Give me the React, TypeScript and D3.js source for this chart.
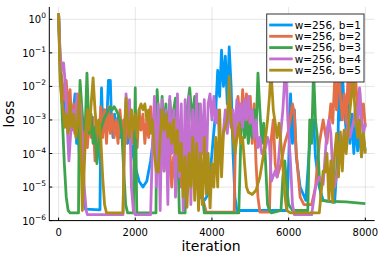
import React from 'react'
import * as d3 from 'd3'

// iteration, loss
const lossB1: [number, number][] = [
  [0, 1.5], [40, 3e-2], [80, 5e-3], [120, 1.5e-3], [160, 4e-3], [200, 8e-4], [240, 3e-3], [280, 5e-4],
  [320, 2e-3], [360, 1e-3], [430, 6e-3], [470, 2e-4], [500, 1e-3], [540, 1e-4], [600, 5e-5], [650, 6e-6],
  [700, 2.2e-6], [1080, 2.1e-6], [1100, 1e-3], [1120, 9e-3], [1150, 8e-4], [1200, 2e-3], [1250, 5e-4],
  [1300, 1.5e-2], [1350, 1.5e-2], [1380, 1e-3], [1420, 3e-4], [1460, 1.5e-3], [1500, 4e-4], [1550, 1.2e-3],
  [1600, 3e-4], [1650, 8e-4], [1700, 1.5e-4], [1750, 6e-4], [1800, 2e-4], [1850, 5e-4], [1900, 1.8e-4],
  [2000, 4e-5], [2100, 1.5e-5], [2200, 1e-5], [2300, 1.5e-5], [2400, 6e-5], [2500, 5e-4], [2550, 2.5e-3],
  [2600, 5e-4], [2650, 2e-3], [2700, 3e-4], [2750, 1.5e-3], [2800, 4e-4], [2850, 1.2e-3], [2900, 2e-4],
  [2950, 8e-4], [3000, 1.5e-4], [3100, 6e-4], [3200, 2e-4], [3300, 1.1e-4], [3400, 3e-4], [3500, 8e-5],
  [3600, 2e-5], [3700, 5e-6], [3800, 4e-6], [3900, 6e-6], [4000, 1e-4], [4100, 2e-3], [4150, 3e-2],
  [4200, 5e-3], [4250, 1.2e-1], [4300, 1e-2], [4350, 8e-2], [4400, 3e-3], [4450, 1.5e-1], [4500, 1e-2],
  [4550, 1e-4], [4600, 5e-6], [4650, 2e-6], [5950, 2e-6], [6000, 5e-5], [6050, 6e-3], [6100, 2e-4],
  [6150, 2e-3], [6200, 8e-5], [6300, 1e-5], [6450, 4e-6], [6550, 2e-4], [6650, 1e-3], [6700, 8e-5],
  [6800, 1e-5], [6900, 4e-6], [7200, 3.5e-6], [7280, 1e-4], [7320, 2e-2], [7360, 1e-3], [7400, 3e-2],
  [7450, 2e-3], [7500, 5e-4], [7550, 3e-3], [7600, 2e-4], [7650, 1.5e-3], [7700, 1e-4], [7750, 8e-4],
  [7800, 1.2e-4], [7850, 6e-4], [7900, 8e-5], [7950, 3e-4], [8000, 1.2e-4],
]

const lossB2: [number, number][] = [
  [0, 1.5], [40, 5e-2], [80, 2e-2], [110, 1e-2], [150, 4e-3], [200, 1.5e-2], [250, 2e-3], [300, 8e-3],
  [350, 5e-4], [400, 3e-3], [450, 6e-4], [500, 3e-3], [550, 2e-4], [600, 1.5e-3], [650, 5e-5], [700, 8e-4],
  [750, 1.5e-4], [800, 1e-3], [850, 3e-4], [900, 1.2e-3], [950, 6e-5], [1000, 6e-4], [1050, 1.5e-4],
  [1100, 2.5e-3], [1150, 3e-4], [1200, 2e-3], [1250, 2e-4], [1300, 2.5e-3], [1350, 4e-4], [1400, 1.5e-3],
  [1450, 3e-4], [1500, 1e-3], [1550, 2e-4], [1600, 2e-3], [1650, 4e-4], [1700, 1e-3], [1750, 2e-4],
  [1800, 1.5e-3], [1850, 3e-4], [1900, 8e-4], [1950, 2e-4], [2000, 1e-3], [2050, 1.5e-4], [2100, 2e-3],
  [2150, 5e-4], [2200, 1.5e-3], [2250, 2e-4], [2300, 1e-3], [2350, 3e-4], [2400, 2.5e-3], [2450, 4e-4],
  [2500, 1.5e-3], [2550, 1e-4], [2600, 8e-4], [2650, 6e-5], [2700, 5e-4], [2750, 3e-5], [2800, 3e-4],
  [2850, 2e-5], [2900, 1.5e-4], [2950, 1e-5], [3000, 8e-5], [3050, 1.5e-5], [3100, 5e-5], [3200, 1e-5],
  [3300, 4e-4], [3400, 2e-5], [3500, 1e-3], [3600, 5e-5], [3700, 8e-6], [3800, 3e-6], [3850, 1.8e-6],
  [4580, 1.8e-6], [4620, 1e-3], [4680, 5e-3], [4750, 5e-4], [4800, 8e-3], [4850, 1e-3], [4900, 6e-3],
  [4950, 4e-4], [5000, 5e-3], [5050, 2e-4], [5100, 3e-3], [5150, 5e-5], [5200, 5e-6], [5250, 1.8e-6],
  [5500, 1.8e-6], [5550, 3e-4], [5600, 1e-3], [5650, 5e-5], [5700, 2e-5], [5800, 5e-5], [5900, 2e-4],
  [6000, 5e-4], [6100, 3e-3], [6150, 1.5e-3], [6200, 1e-4], [6300, 5e-6], [6400, 3e-6], [6600, 3e-6],
  [6700, 1e-5], [6800, 2e-4], [6900, 1e-3], [7000, 2e-4], [7100, 3e-3], [7150, 8e-4], [7200, 1.5e-2],
  [7250, 2e-3], [7300, 4e-2], [7350, 5e-3], [7400, 1e-3], [7450, 6e-3], [7500, 8e-4], [7550, 2e-2],
  [7600, 3e-3], [7650, 5e-2], [7700, 5e-3], [7750, 1.5e-2], [7800, 2e-3], [7850, 8e-3], [7900, 1e-3],
  [7950, 3e-3], [8000, 6e-4],
]

const lossB3: [number, number][] = [
  [0, 1.5], [50, 3e-2], [100, 1e-3], [150, 5e-5], [200, 5e-6], [250, 2e-6], [300, 1.7e-6], [520, 1.7e-6],
  [540, 2e-3], [560, 1.5e-2], [600, 3e-3], [650, 5e-4], [700, 1e-3], [740, 2.5e-2], [770, 3e-3],
  [800, 4e-4], [850, 1.5e-3], [900, 2e-4], [950, 6e-4], [1000, 5e-5], [1050, 2e-4], [1100, 5e-4],
  [1150, 8e-4], [1200, 1.2e-3], [1250, 1.5e-3], [1300, 2e-3], [1350, 2.5e-3], [1400, 2e-3], [1450, 2.5e-3],
  [1500, 2e-3], [1550, 1.5e-3], [1600, 1e-3], [1650, 4e-4], [1700, 3e-5], [1750, 3e-6], [1800, 1.7e-6],
  [1950, 1.7e-6], [2000, 9e-3], [2040, 1.7e-6], [2540, 1.7e-6], [2570, 8e-3], [2600, 2e-3], [2650, 1.5e-4],
  [2700, 5e-3], [2750, 5e-4], [2800, 3e-3], [2850, 2e-4], [2900, 4e-3], [2950, 8e-4], [3000, 2e-3],
  [3050, 4.5e-3], [3100, 3e-4], [3150, 1.7e-6], [3300, 1.7e-6], [3350, 2e-3], [3420, 9e-3], [3480, 1e-3],
  [3550, 5e-3], [3600, 2e-4], [3650, 3e-3], [3700, 1e-4], [3750, 6e-6], [3800, 1.7e-6], [4700, 1.7e-6],
  [4760, 5e-4], [4800, 2e-3], [4850, 3e-4], [4900, 1e-3], [4950, 2e-4], [5000, 1e-3], [5050, 3e-4],
  [5100, 2e-3], [5150, 4e-4], [5200, 2.5e-2], [5250, 2e-3], [5300, 2e-4], [5350, 8e-4], [5400, 5e-5],
  [5450, 3e-6], [5500, 2e-6], [5550, 1.7e-6], [5800, 2e-6], [5850, 2e-5], [5900, 6e-5], [5950, 1e-5],
  [6000, 3e-6], [6100, 2e-6], [6500, 2e-6], [6550, 1e-3], [6600, 2e-4], [6650, 3e-2], [6700, 1e-3],
  [6750, 3e-4], [6800, 2e-5], [6850, 4e-6], [7000, 3.8e-6], [7500, 3.6e-6], [8000, 3.2e-6],
]

const lossB4: [number, number][] = [
  [0, 1.5], [40, 1e-1], [80, 3e-2], [130, 5e-2], [180, 1e-2], [230, 5e-4], [270, 6e-5], [320, 5e-4],
  [370, 2e-3], [420, 4e-4], [480, 6e-3], [530, 1e-3], [570, 3e-3], [620, 2e-4], [670, 1e-5], [720, 2e-6],
  [750, 1.5e-6], [1680, 1.5e-6], [1720, 3e-4], [1760, 6e-3], [1800, 1e-3], [1850, 4e-3], [1900, 1e-5],
  [1950, 2e-6], [2000, 1.5e-6], [2400, 1.5e-6], [2450, 2e-4], [2500, 5e-3], [2550, 1e-5], [2600, 3e-3],
  [2650, 2e-6], [2700, 4e-3], [2750, 3e-5], [2800, 2e-3], [2850, 3e-6], [2900, 5e-3], [2950, 1e-4],
  [3000, 2e-3], [3050, 5e-6], [3100, 6e-3], [3150, 2e-5], [3200, 3e-3], [3250, 2e-6], [3300, 4e-3],
  [3350, 1e-5], [3400, 5e-3], [3450, 3e-6], [3500, 2e-3], [3550, 2e-5], [3600, 6e-3], [3650, 5e-6],
  [3700, 3e-3], [3750, 1e-4], [3800, 4e-3], [3850, 2e-5], [3900, 3e-3], [3950, 6e-3], [4000, 1e-3],
  [4050, 5e-3], [4100, 8e-4], [4150, 2e-3], [4200, 3e-4], [4250, 1e-4], [4300, 5e-4], [4350, 2e-3],
  [4400, 4e-4], [4450, 3e-3], [4500, 6e-4], [4550, 2e-3], [4600, 3e-4], [4650, 4e-3], [4700, 8e-4],
  [4750, 3e-3], [4800, 6e-4], [4850, 4e-3], [4900, 1e-3], [4950, 5e-3], [5000, 8e-4], [5050, 2e-3],
  [5100, 3e-4], [5150, 1e-3], [5200, 1.5e-4], [5250, 3e-4], [5300, 1e-4], [5400, 1.5e-4], [5450, 3e-4],
  [5500, 2e-4], [5550, 1.5e-5], [5650, 3e-5], [5700, 2e-5], [5750, 1e-4], [5800, 5e-4], [5850, 2e-3],
  [5920, 5e-2], [5980, 1e-3], [6050, 5e-5], [6100, 3e-6], [6150, 1.5e-6], [6600, 1.5e-6], [6700, 1e-5],
  [6800, 2e-5], [6900, 1.2e-5], [7000, 5e-4], [7050, 1e-3], [7100, 4e-4], [7150, 3e-5], [7200, 1e-5],
  [7300, 5e-5], [7350, 2e-4], [7400, 1.4e-4], [7450, 5e-4], [7500, 2e-4], [7550, 1e-3], [7600, 3e-4],
  [7700, 1e-3], [7750, 2.5e-3], [7800, 5e-4], [7850, 9e-3], [7900, 1e-3], [7950, 4e-4], [8000, 8e-4],
]

const lossB5: [number, number][] = [
  [0, 1.5], [40, 1.5e-2], [80, 4e-3], [120, 2e-3], [160, 6e-4], [200, 1.5e-3], [250, 4e-4], [300, 3e-3],
  [350, 6e-4], [400, 1.5e-3], [450, 3e-4], [500, 1e-3], [540, 6e-3], [580, 2e-4], [620, 2e-6], [650, 1e-5],
  [700, 3e-4], [750, 2e-3], [800, 5e-4], [850, 3e-3], [900, 1.8e-2], [950, 2e-3], [1000, 4e-4],
  [1050, 1e-3], [1100, 3e-4], [1150, 2e-5], [1200, 3e-6], [1250, 1.7e-6], [1680, 1.7e-6], [1720, 5e-4],
  [1760, 4.5e-3], [1800, 1e-3], [1850, 3e-4], [1900, 2e-3], [1950, 5e-4], [2000, 1.5e-3], [2050, 3e-4],
  [2100, 2e-3], [2150, 3e-3], [2200, 2e-3], [2250, 3e-3], [2300, 1e-3], [2350, 2e-3], [2400, 4e-4],
  [2450, 1e-3], [2500, 1e-4], [2550, 3e-5], [2600, 2.8e-5], [2650, 3e-4], [2700, 2e-3], [2750, 5e-4],
  [2800, 1.5e-3], [2850, 3e-4], [2900, 8e-4], [2950, 2e-4], [3000, 1e-3], [3050, 1e-4], [3100, 5e-4],
  [3150, 3e-5], [3200, 2e-4], [3250, 5e-6], [3300, 8e-5], [3350, 2.5e-6], [3400, 1e-4], [3450, 1e-5],
  [3500, 3e-4], [3550, 4e-6], [3600, 2e-4], [3650, 2e-6], [3700, 1e-4], [3750, 3e-6], [3800, 3e-4],
  [3850, 6e-6], [3900, 1e-4], [3950, 2.4e-6], [4000, 5e-5], [4050, 1e-5], [4100, 3e-4], [4150, 1e-5],
  [4200, 2e-3], [4250, 2e-5], [4300, 4e-4], [4400, 1e-3], [4450, 2e-2], [4500, 1e-3], [4550, 3e-4],
  [4600, 1e-4], [4700, 8e-4], [4750, 2e-4], [4800, 3e-4], [4850, 5e-5], [4900, 1e-5], [4950, 7e-6],
  [5050, 6e-6], [5150, 8e-6], [5250, 2e-5], [5350, 1e-4], [5450, 1e-3], [5500, 5e-3], [5540, 3e-2],
  [5600, 2e-3], [5650, 8e-4], [5700, 3e-4], [5750, 8e-4], [5800, 2e-4], [5850, 4e-5], [5900, 6e-6],
  [5950, 2e-6], [6050, 1.7e-6], [6800, 1.7e-6], [6900, 3e-5], [6950, 2.8e-5], [7000, 1e-4], [7050, 4e-6],
  [7100, 6e-5], [7150, 3.5e-6], [7200, 1e-4], [7250, 4e-4], [7300, 2e-5], [7350, 4.4e-4], [7400, 3e-5],
  [7450, 5e-4], [7500, 1e-4], [7600, 2e-3], [7680, 1.5e-2], [7750, 1e-3], [7800, 3e-4], [7850, 1e-3],
  [7900, 8e-5], [7950, 4e-4], [8000, 1e-4],
]

const seriesLabels = ['w=256, b=1', 'w=256, b=2', 'w=256, b=3', 'w=256, b=4', 'w=256, b=5']
const seriesColors = ['#009af9', '#e26f46', '#3da44d', '#c271d2', '#ac8d18']
const xTicks = [0, 2000, 4000, 6000, 8000]
const yTickExponents = [0, -1, -2, -3, -4, -5, -6]

const W = 382
const H = 255
const FONT = 'DejaVu Sans, sans-serif'

export default function App() {
  const allSeries = [lossB1, lossB2, lossB3, lossB4, lossB5]

  const x = d3.scaleLinear().domain([-242, 8242]).range([49.3, 374.6])
  const y = d3.scaleLog().domain([1e-6, Math.pow(10, 0.37)]).range([220.6, 6.9])

  const line = d3
    .line<[number, number]>()
    .x((d) => x(d[0]))
    .y((d) => y(d[1]))

  const [x0, x1] = x.range()
  const [yb, yt] = y.range()

  const legendX = 266.7
  const legendY = 14
  const rowH = 11.3

  return (
    <svg width={W} height={H} style={{ position: 'absolute', left: 0, top: 0 }} fontFamily={FONT}>
      <rect width={W} height={H} fill="#fff" />
      <defs>
        <clipPath id="plotArea">
          <rect x={x0} y={yt} width={x1 - x0} height={yb - yt} />
        </clipPath>
      </defs>

      {/* grid */}
      <g stroke="#000" strokeOpacity={0.1} strokeWidth={1}>
        {xTicks.map((t) => (
          <line key={t} x1={x(t)} x2={x(t)} y1={yt} y2={yb} />
        ))}
        {yTickExponents.map((e) => (
          <line key={e} x1={x0} x2={x1} y1={y(Math.pow(10, e))} y2={y(Math.pow(10, e))} />
        ))}
      </g>

      {/* series */}
      <g clipPath="url(#plotArea)" fill="none" strokeWidth={2.8} strokeLinejoin="round">
        {allSeries.map((s, i) => (
          <path key={i} d={line(s) ?? ''} stroke={seriesColors[i]} />
        ))}
      </g>

      {/* axes */}
      <g stroke="#000" strokeWidth={1}>
        <line x1={x0} x2={x0} y1={yt} y2={yb} />
        <line x1={x0} x2={x1} y1={yb} y2={yb} />
        {xTicks.map((t) => (
          <line key={t} x1={x(t)} x2={x(t)} y1={yb} y2={yb - 3} />
        ))}
        {yTickExponents.map((e) => (
          <line key={e} x1={x0} x2={x0 + 3} y1={y(Math.pow(10, e))} y2={y(Math.pow(10, e))} />
        ))}
      </g>

      {/* tick labels */}
      <g fontSize={10} fill="#000">
        {xTicks.map((t) => (
          <text key={t} x={x(t)} y={236} textAnchor="middle">
            {t}
          </text>
        ))}
        {yTickExponents.map((e) => (
          <text key={e} x={46} y={y(Math.pow(10, e)) + 4} textAnchor="end">
            <tspan>10</tspan>
            <tspan dy={-5} fontSize={7.5}>
              {e < 0 ? `\u2212${-e}` : `${e}`}
            </tspan>
          </text>
        ))}
      </g>

      {/* axis titles */}
      <text x={211} y={251} textAnchor="middle" fontSize={14}>
        iteration
      </text>
      <text transform={`translate(13.5, 114) rotate(-90)`} textAnchor="middle" fontSize={14}>
        loss
      </text>

      {/* legend */}
      <g>
        <rect x={legendX} y={legendY} width={97.3} height={68} fill="#fff" stroke="#333" strokeWidth={1} />
        {seriesLabels.map((label, i) => {
          const ry = legendY + 11 + i * rowH
          return (
            <g key={label}>
              <line x1={legendX + 2.5} x2={legendX + 26} y1={ry} y2={ry} stroke={seriesColors[i]} strokeWidth={2.8} />
              <text x={legendX + 28} y={ry + 3.8} fontSize={10.5}>
                {label}
              </text>
            </g>
          )
        })}
      </g>
    </svg>
  )
}
